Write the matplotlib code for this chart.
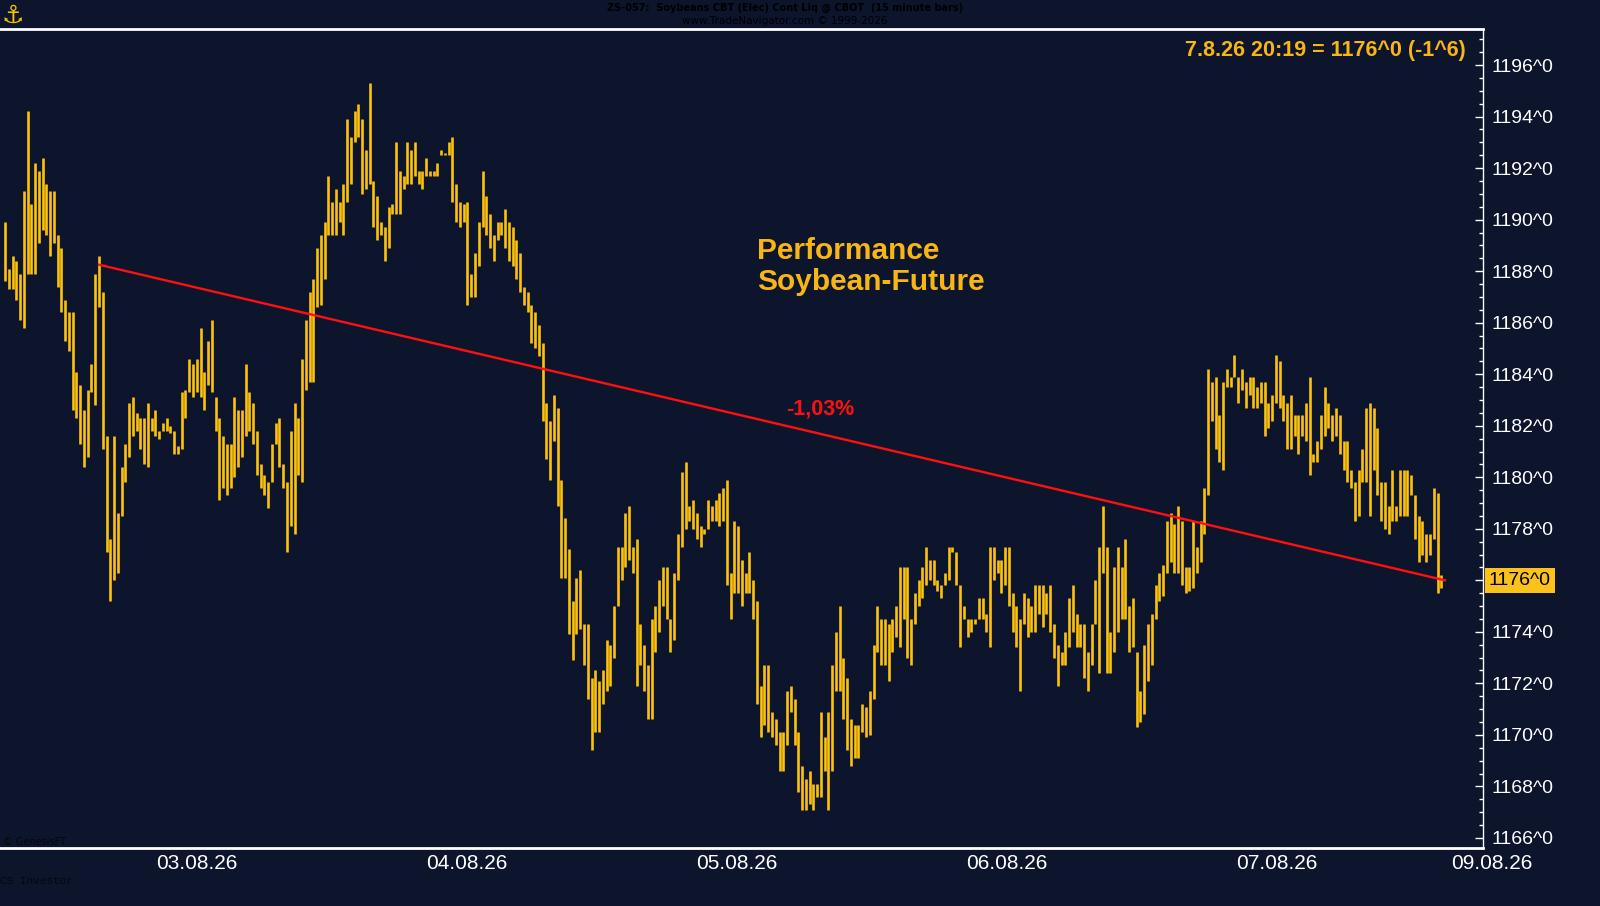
import numpy as np
import matplotlib
matplotlib.use("Agg")
from matplotlib import pyplot as plt
from matplotlib import transforms

plt.rcParams['font.family'] = ['Liberation Sans', 'DejaVu Sans']

# 15 minute bars, high / low
highs = [
    1189.9, 1188.1, 1188.6, 1188.4, 1187.9, 1191.1, 1194.2, 1190.6, 1192.2, 1191.9,
    1192.4, 1191.4, 1191.1, 1191.1, 1189.4, 1188.9, 1186.9, 1186.4, 1186.4, 1184.1,
    1183.6, 1182.6, 1183.4, 1184.4, 1187.9, 1188.6, 1187.2, 1181.6, 1177.6, 1181.6,
    1178.6, 1180.4, 1181.3, 1182.9, 1183.1, 1182.5, 1182.3, 1182.3, 1182.9, 1182.3,
    1182.6, 1181.8, 1182.1, 1182.3, 1182.0, 1181.8, 1181.2, 1183.3, 1183.4, 1184.6,
    1184.4, 1184.6, 1185.8, 1184.1, 1185.3, 1186.1, 1183.1, 1182.3, 1181.6, 1181.3,
    1181.3, 1183.1, 1182.6, 1182.6, 1184.4, 1183.3, 1182.9, 1181.8, 1180.5, 1180.1,
    1179.8, 1181.3, 1182.1, 1182.3, 1180.5, 1179.8, 1181.8, 1182.9, 1182.3, 1184.6,
    1186.1, 1187.2, 1187.7, 1188.9, 1189.4, 1189.9, 1191.7, 1190.7, 1191.2, 1190.7,
    1191.4, 1193.9, 1193.2, 1194.2, 1194.5, 1193.9, 1192.7, 1195.3, 1191.5, 1190.9,
    1189.9, 1189.7, 1190.5, 1190.6, 1193.0, 1191.9, 1191.7, 1193.0, 1192.7, 1193.0,
    1191.9, 1191.9, 1192.4, 1191.9, 1191.9, 1192.2, 1192.7, 1192.6, 1193.0, 1193.2,
    1191.4, 1190.7, 1190.6, 1190.7, 1187.9, 1188.7, 1189.9, 1191.9, 1190.9, 1190.2,
    1189.4, 1189.9, 1189.9, 1190.4, 1189.9, 1189.7, 1189.2, 1188.7, 1187.4, 1187.2,
    1186.7, 1186.4, 1185.9, 1185.2, 1182.9, 1182.2, 1183.2, 1182.7, 1179.9, 1178.4,
    1177.2, 1175.2, 1176.1, 1176.4,
    1174.3, 1174.3, 1172.2, 1172.5, 1172.1, 1172.5, 1173.7, 1173.5, 1175.0, 1177.3,
    1177.3, 1178.6, 1178.9, 1177.3, 1177.6, 1174.3, 1173.5, 1172.7, 1174.5, 1175.0,
    1176.0, 1176.5, 1176.5, 1174.5, 1176.3, 1177.8, 1180.2, 1180.6, 1178.9, 1179.1,
    1178.6, 1178.1, 1178.0, 1179.1, 1178.9, 1179.1, 1179.4, 1179.6, 1179.9, 1176.3,
    1178.3, 1178.1, 1176.8, 1176.3, 1177.1, 1176.0, 1175.2, 1171.9, 1172.7, 1172.7,
    1170.9, 1170.6, 1170.1, 1170.1, 1171.7, 1171.9, 1171.4, 1170.1, 1168.8, 1168.3,
    1168.6, 1168.1, 1168.1, 1170.9, 1169.9, 1170.9, 1172.7, 1174.0, 1175.0, 1173.0,
    1172.2, 1170.6, 1170.4, 1170.4, 1171.2,
    1171.1, 1171.7, 1173.5, 1175.0, 1174.5, 1174.5, 1174.3, 1174.5, 1175.0, 1176.5,
    1176.5, 1176.5, 1174.5, 1175.5, 1176.0, 1176.5, 1177.3, 1176.8, 1176.8, 1176.0,
    1175.8, 1176.3, 1177.3, 1177.3, 1177.1, 1175.8, 1175.0, 1174.5, 1174.5, 1174.5,
    1175.3, 1175.3, 1174.7, 1177.3, 1177.3, 1176.8, 1176.8, 1177.3, 1177.3, 1175.5,
    1175.0, 1174.5, 1175.5, 1175.3, 1175.0, 1175.8, 1175.8, 1175.8, 1175.5, 1175.8,
    1174.3, 1173.5, 1173.2, 1174.0, 1175.3, 1175.8, 1174.7, 1174.3, 1174.3, 1173.2,
    1174.3, 1176.0, 1177.3, 1178.9, 1177.3, 1174.0, 1176.5, 1177.3, 1176.5, 1177.6,
    1175.0, 1175.3, 1173.2, 1171.7, 1173.5, 1174.3, 1174.7, 1175.8,
    1176.3, 1176.6, 1178.3, 1178.6, 1178.2, 1178.9, 1178.3, 1176.5, 1176.5, 1178.3,
    1177.3, 1178.3, 1179.6, 1184.2, 1183.7, 1183.9, 1182.4, 1183.7, 1184.2, 1183.9,
    1184.75, 1183.9, 1184.2, 1183.7, 1183.9, 1183.9, 1183.5, 1183.7, 1183.7, 1182.9,
    1183.2, 1184.75, 1184.5, 1183.2, 1182.9, 1183.2, 1182.4, 1182.4, 1182.4, 1182.9,
    1183.9, 1180.9, 1181.4, 1182.4, 1183.5, 1182.9, 1182.4, 1182.7, 1182.4, 1181.4,
    1181.4, 1180.3, 1179.8, 1180.3, 1181.1, 1182.7, 1182.9, 1182.7, 1181.9, 1179.8,
    1179.8, 1178.9, 1180.3, 1178.9, 1180.3, 1180.3, 1180.3, 1180.1, 1179.3, 1178.5,
    1178.3, 1177.8, 1177.8, 1179.6, 1179.4, 1176.2,
]
lows = [
    1187.6, 1187.3, 1187.3, 1186.9, 1186.1, 1185.8, 1187.9, 1187.9, 1187.9, 1189.1,
    1189.6, 1189.4, 1188.6, 1189.1, 1187.4, 1186.4, 1185.3, 1184.9, 1182.6, 1182.3,
    1181.3, 1180.4, 1180.8, 1183.3, 1182.8, 1186.6, 1181.1, 1177.1, 1175.2, 1176.0,
    1176.3, 1178.5, 1179.8, 1180.8, 1181.6, 1181.8, 1181.1, 1180.5, 1180.4, 1181.8,
    1181.6, 1181.5, 1181.8, 1181.8, 1181.7, 1180.9, 1180.9, 1181.1, 1182.3, 1183.3,
    1183.1, 1183.3, 1183.1, 1182.6, 1183.6, 1183.3, 1181.8, 1179.1, 1179.6, 1179.3,
    1179.6, 1180.0, 1180.4, 1180.8, 1181.6, 1181.8, 1181.3, 1180.1, 1179.6, 1179.3,
    1178.8, 1179.8, 1181.3, 1180.4, 1179.6, 1177.1, 1178.1, 1177.8, 1180.1, 1179.8,
    1183.4, 1183.7, 1183.7, 1186.6, 1186.7, 1187.7, 1189.4, 1189.4, 1189.4, 1189.9,
    1189.4, 1190.7, 1191.4, 1193.0, 1193.2, 1191.0, 1191.2, 1191.4, 1189.7, 1189.2,
    1189.4, 1188.4, 1188.9, 1190.2, 1190.2, 1190.2, 1191.2, 1191.4, 1191.4, 1191.7,
    1191.4, 1191.2, 1191.7, 1191.7, 1191.7, 1191.7, 1192.5, 1192.5, 1192.5, 1190.7,
    1189.9, 1189.7, 1189.9, 1186.7, 1187.0, 1187.0, 1188.2, 1189.7, 1189.4, 1188.9,
    1188.4, 1189.2, 1189.4, 1188.9, 1188.4, 1188.2, 1187.7, 1187.2, 1186.7, 1186.4,
    1185.2, 1185.0, 1184.7, 1182.2, 1180.7, 1179.9, 1181.4, 1178.9, 1176.1, 1176.1,
    1173.9, 1172.9, 1173.9, 1174.1,
    1172.7, 1171.4, 1169.4, 1170.1, 1170.1, 1171.2, 1171.7, 1171.9, 1173.0, 1175.0,
    1176.0, 1176.5, 1176.8, 1176.3, 1171.9, 1172.7, 1171.7, 1170.6, 1170.6, 1173.2,
    1174.0, 1175.0, 1174.5, 1173.2, 1173.7, 1176.0, 1177.3, 1178.0, 1178.3, 1178.0,
    1177.6, 1177.3, 1177.8, 1178.0, 1178.3, 1178.3, 1178.1, 1178.3, 1175.8, 1174.5,
    1175.5, 1175.5, 1175.0, 1175.5, 1175.5, 1174.5, 1171.2, 1169.9, 1170.4, 1170.1,
    1169.9, 1169.6, 1168.6, 1168.6, 1169.6, 1170.9, 1169.6, 1167.8, 1167.1, 1167.1,
    1167.3, 1167.1, 1167.6, 1167.6, 1168.6, 1167.1, 1168.6, 1171.7, 1171.7, 1170.6,
    1169.4, 1168.8, 1169.1, 1169.1, 1170.1,
    1169.9, 1170.0, 1171.4, 1173.2, 1172.7, 1172.7, 1172.1, 1173.2, 1173.8, 1173.4,
    1174.5, 1173.0, 1172.7, 1174.3, 1175.0, 1175.3, 1175.8, 1176.0, 1175.8, 1175.6,
    1175.3, 1175.8, 1176.0, 1177.1, 1175.8, 1173.4, 1174.5, 1173.8, 1174.0, 1174.3,
    1174.5, 1174.5, 1174.0, 1173.4, 1176.0, 1176.3, 1175.5, 1175.8, 1175.0, 1174.0,
    1173.4, 1171.7, 1174.3, 1173.8, 1174.0, 1174.0, 1174.7, 1174.2, 1174.7, 1174.0,
    1173.0, 1171.9, 1172.7, 1172.7, 1173.4, 1174.0, 1173.4, 1173.4, 1172.2, 1171.7,
    1172.7, 1174.3, 1172.4, 1176.3, 1172.4, 1172.4, 1173.2, 1174.0, 1174.5, 1174.5,
    1173.2, 1173.4, 1170.3, 1170.5, 1170.8, 1172.1, 1172.7, 1174.5,
    1175.2, 1175.4, 1176.3, 1176.7, 1176.3, 1176.3, 1175.8, 1175.5, 1175.6, 1175.7,
    1176.3, 1176.7, 1177.8, 1179.3, 1182.2, 1181.1, 1180.6, 1180.3, 1183.5, 1183.5,
    1183.9, 1182.9, 1183.4, 1182.7, 1183.2, 1182.7, 1182.7, 1182.9, 1181.6, 1181.9,
    1182.2, 1182.9, 1182.7, 1182.2, 1181.1, 1181.1, 1181.6, 1180.9, 1181.6, 1181.4,
    1180.1, 1180.6, 1180.6, 1181.1, 1181.6, 1181.9, 1181.4, 1181.6, 1180.9, 1180.3,
    1179.8, 1179.6, 1178.3, 1178.5, 1179.8, 1179.8, 1178.5, 1180.3, 1179.3, 1178.3,
    1178.0, 1177.8, 1178.3, 1178.3, 1178.5, 1178.5, 1178.5, 1179.3, 1177.6, 1176.7,
    1177.0, 1176.7, 1177.0, 1177.6, 1175.5, 1175.7,
]

day_labels = ["03.08.26", "04.08.26", "05.08.26", "06.08.26", "07.08.26", "09.08.26"]
day_pos = [51.1, 122.9, 194.7, 266.5, 338.3, 395.5]

trend_start = (25, 1188.25)
trend_end = (383, 1176.0)
last_price = 1176.0

bg = "#0d152d"
gold = "#fcc20c"
txt_orange = "#f7b516"

fig = plt.figure(figsize=(16, 9.06), dpi=100, facecolor=bg)
ax = fig.add_axes([0, 1 - 848 / 906, 1483 / 1600, (848 - 29) / 906])
ax.set_facecolor(bg)

x = np.arange(len(highs))
ax.vlines(x, lows, highs, color=gold, lw=1.9)

ax.plot([trend_start[0], trend_end[0]], [trend_start[1], trend_end[1]],
        color="#ff1010", lw=1.7)

ax.set_xlim(-1.33, 393.1)
ax.set_ylim(1165.61, 1197.40)

ax.spines["left"].set_visible(False)
ax.spines["top"].set_color("white")
ax.spines["top"].set_linewidth(2.0)
ax.spines["bottom"].set_color("white")
ax.spines["bottom"].set_linewidth(2.0)
ax.spines["right"].set_color("white")
ax.spines["right"].set_linewidth(1.0)

yt = np.arange(1166, 1197, 2)
ax.yaxis.tick_right()
ax.set_yticks(yt)
ax.set_yticks(np.arange(1166, 1197.5, 0.5), minor=True)
# the 1176 label is hidden under the last-price box
ax.set_yticklabels(["" if v == last_price else "%d^0" % v for v in yt])
ax.tick_params(axis="y", which="major", direction="in", length=6, width=1,
               colors="white", labelsize=14, pad=6)
ax.tick_params(axis="y", which="minor", direction="in", length=3, width=1,
               colors="white")
ax.set_xticks([])

lab_tr = transforms.blended_transform_factory(ax.transData, ax.transAxes)
for lbl, p in zip(day_labels, day_pos):
    ax.text(p, -0.007, lbl, transform=lab_tr, ha="center", va="top",
            color="white", fontsize=15, clip_on=False)

# last price marker on the right axis
px_tr = transforms.blended_transform_factory(ax.transAxes, ax.transData)
ax.text(1.004, last_price, "1176^0", transform=px_tr, ha="left", va="center",
        color="black", fontsize=14, clip_on=False, zorder=5,
        bbox=dict(boxstyle="square,pad=0.2", facecolor="#fbc21c", edgecolor="none"))

ax.text(0.9885, 0.986, "7.8.26 20:19 = 1176^0 (-1^6)", transform=ax.transAxes,
        ha="right", va="top", color=txt_orange, fontsize=15.5, fontweight="bold")

ax.text(200.0, 1188.18, "Performance\nSoybean-Future", ha="left", va="center",
        color=txt_orange, fontsize=21.5, fontweight="bold", linespacing=1.17)
ax.text(216.8, 1182.65, "-1,03%", ha="center", va="center", color="#ff1010",
        fontsize=15.5, fontweight="bold")

# header and credits, almost invisible on the dark background
fig.text(785 / 1600, 1 - 8 / 906, "ZS-057:  Soybeans CBT (Elec) Cont Liq @ CBOT  (15 minute bars)",
         ha="center", va="center", color="#000000", fontsize=7, fontweight="bold",
         family="Liberation Sans Narrow")
fig.text(785 / 1600, 1 - 21 / 906, "www.TradeNavigator.com \u00a9 1999-2026",
         ha="center", va="center", color="#000000", fontsize=7.5,
         family="Liberation Sans Narrow")
fig.text(3 / 1600, 1 - 842 / 906, "\u00a9 GenesisFT", ha="left", va="center",
         color="#05070d", fontsize=7, family="Liberation Sans Narrow")
fig.text(0, 1 - 881 / 906, "CS Investor", ha="left", va="center",
         color="#05070d", fontsize=8, family="Liberation Mono")
fig.text(2 / 1600, 1 - 16 / 906, "\u2693", ha="left", va="center",
         color="#f2c200", fontsize=18, family="DejaVu Sans")

fig.savefig("out.png", dpi=100, facecolor=bg)
